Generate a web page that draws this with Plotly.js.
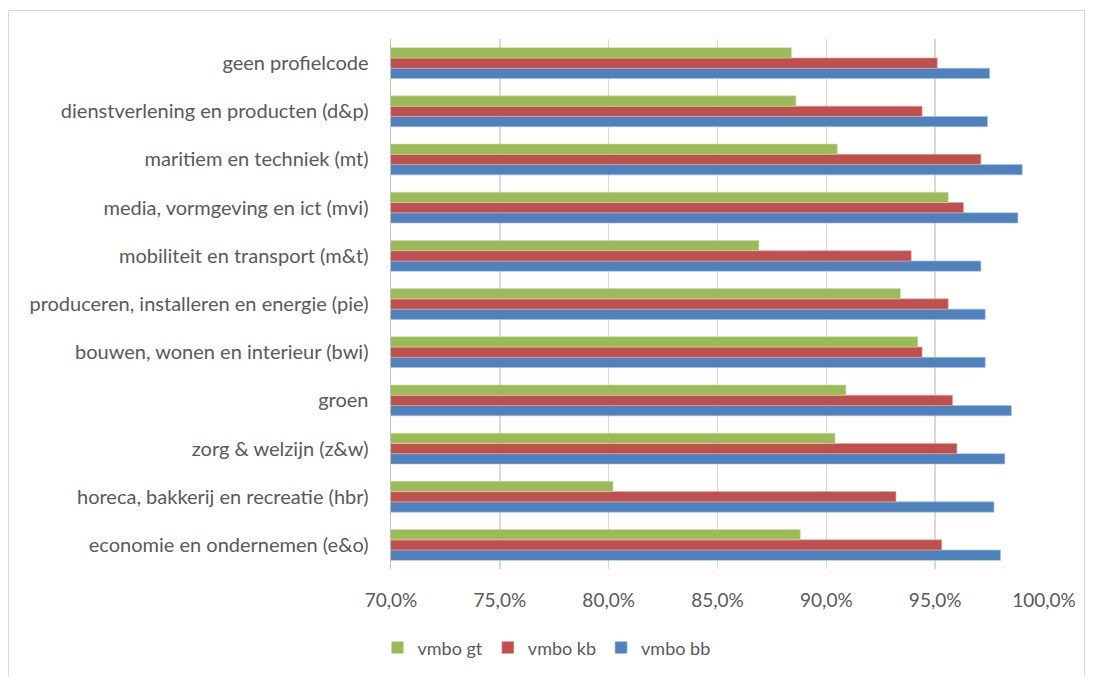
<!DOCTYPE html>
<html>
<head>
<meta charset="utf-8">
<script src="https://cdn.plot.ly/plotly-3.0.1.min.js"></script>
<style>
html,body{margin:0;padding:0;background:#fff;}
#frame{position:absolute;left:8px;top:10px;width:1077px;height:680px;border:1px solid #d9d9d9;box-sizing:border-box;}
#chart{position:absolute;left:0;top:0;width:1093px;height:677px;}
</style>
</head>
<body>
<div id="frame"></div>
<div id="chart"></div>
<script>
const categories = [
  "economie en ondernemen (e&o)",
  "horeca, bakkerij en recreatie (hbr)",
  "zorg & welzijn (z&w)",
  "groen",
  "bouwen, wonen en interieur (bwi)",
  "produceren, installeren en energie (pie)",
  "mobiliteit en transport (m&t)",
  "media, vormgeving en ict (mvi)",
  "maritiem en techniek (mt)",
  "dienstverlening en producten (d&p)",
  "geen profielcode"
];
const vmboBB = [98.0, 97.7, 98.2, 98.5, 97.3, 97.3, 97.1, 98.8, 99.0, 97.4, 97.5];
const vmboKB = [95.3, 93.2, 96.0, 95.8, 94.4, 95.6, 93.9, 96.3, 97.1, 94.4, 95.1];
const vmboGT = [88.8, 80.2, 90.4, 90.9, 94.2, 93.4, 86.9, 95.6, 90.5, 88.6, 88.4];
const xTicks = [70, 75, 80, 85, 90, 95, 100];
const xTickLabels = ["70,0%", "75,0%", "80,0%", "85,0%", "90,0%", "95,0%", "100,0%"];

const data = [
  {type:'bar', orientation:'h', name:'vmbo bb', y:categories, x:vmboBB, marker:{color:'#4f81bd', line:{color:'#a7c0de', width:0.6}}},
  {type:'bar', orientation:'h', name:'vmbo kb', y:categories, x:vmboKB, marker:{color:'#c0504d', line:{color:'#e0a8a6', width:0.6}}},
  {type:'bar', orientation:'h', name:'vmbo gt', y:categories, x:vmboGT, marker:{color:'#9bbb59', line:{color:'#cddcac', width:0.6}}}
];

const layout = {
  width:1093, height:677,
  paper_bgcolor:'rgba(0,0,0,0)', plot_bgcolor:'rgba(0,0,0,0)',
  margin:{l:391, r:49, t:39, b:108},
  barmode:'group', bargap:0.36, bargroupgap:0,
  font:{family:'Lato, "Open Sans", sans-serif', size:19, color:'#595959'},
  xaxis:{
    range:[70,100], tickmode:'array', tickvals:xTicks, ticktext:xTickLabels,
    showgrid:true, gridcolor:'#d9d9d9', gridwidth:1.5,
    zeroline:false, showline:false, ticks:'', ticklabelstandoff:18,
    tickfont:{size:19, color:'#595959'}, fixedrange:true
  },
  yaxis:{
    type:'category', showgrid:false, zeroline:false,
    showline:true, linecolor:'#bfbfbf', linewidth:1.5,
    ticks:'', ticklabelstandoff:17,
    tickfont:{size:20, color:'#595959'}
  },
  showlegend:true,
  legend:{orientation:'h', traceorder:'reversed', xref:'container', yref:'container',
    x:0.5, xanchor:'center', y:0.043, yanchor:'middle',
    font:{size:18, color:'#595959'}, itemwidth:30}
};

Plotly.newPlot('chart', data, layout, {displayModeBar:false, staticPlot:true});
</script>
</body>
</html>
